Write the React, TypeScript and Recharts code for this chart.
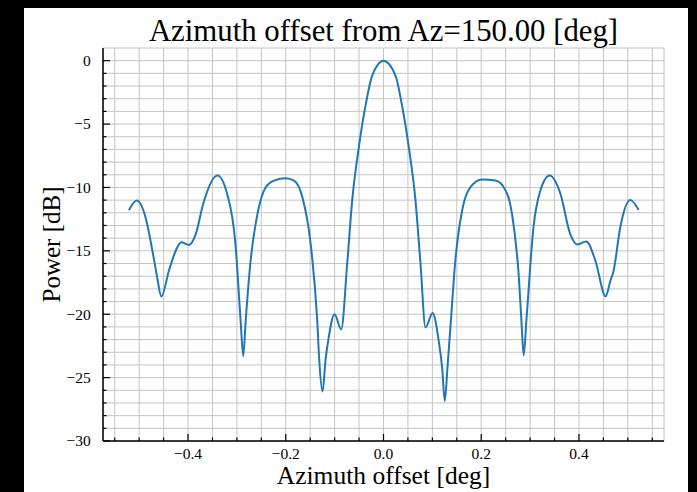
import React from "react";
import { LineChart, Line, XAxis, YAxis, CartesianGrid } from "recharts";

// Azimuth offset [deg]
const azimuthOffset = [
  -0.521, -0.505, -0.487, -0.473, -0.464, -0.4546, -0.439, -0.425, -0.4137, -0.398, -0.384,
  -0.369, -0.34, -0.32, -0.303, -0.2924, -0.287, -0.282, -0.272, -0.258, -0.241,
  -0.224, -0.2, -0.183, -0.166, -0.149, -0.1356, -0.1315, -0.1247, -0.1186, -0.112,
  -0.1002, -0.0865, -0.0743, -0.064, -0.0505, -0.0368, -0.0231, 0, 0.0245, 0.038,
  0.0518, 0.0654, 0.0757, 0.086, 0.1005, 0.113, 0.12, 0.1254, 0.1309, 0.137,
  0.147, 0.161, 0.178, 0.2018, 0.229, 0.246, 0.263, 0.277, 0.2822, 0.2869,
  0.2924, 0.307, 0.321, 0.34, 0.362, 0.382, 0.397, 0.415, 0.4335, 0.4546, 0.464,
  0.471, 0.4847, 0.505, 0.522,
];

// Power [dB]
const powerDb = [
  -11.8, -11.03, -12.35, -14.97, -16.9, -18.6, -16.55, -14.97, -14.32, -14.53, -13.66,
  -11.3, -9.06, -10.5, -14.45, -20.5, -23.3, -20.5, -15.8, -12.1, -9.98,
  -9.46, -9.27, -9.46, -10.77, -14.45, -20.5, -23.6, -26.1, -23.6, -21.8,
  -20.0, -21.2, -16.0, -11.0, -6.83, -3.55, -1.18, 0, -1.18, -3.55,
  -6.83, -11.0, -16.0, -21.05, -19.9, -22.1, -24.2, -26.85, -24.2, -21.0,
  -15.76, -11.8, -9.98, -9.38, -9.46, -9.98, -12.1, -17.1, -20.5, -23.25,
  -20.5, -13.1, -10.24, -9.06, -10.5, -13.66, -14.5, -14.26, -15.76, -18.6, -17.4,
  -16.55, -13.1, -10.98, -11.77,
];

const xTicks = [
  -0.55, -0.5, -0.45, -0.4, -0.35, -0.3, -0.25, -0.2, -0.15, -0.1, -0.05, 0,
  0.05, 0.1, 0.15, 0.2, 0.25, 0.3, 0.35, 0.4, 0.45, 0.5, 0.55,
];
const xMajorTicks = [-0.4, -0.2, 0, 0.2, 0.4];

const yTicks = [
  -30, -29, -28, -27, -26, -25, -24, -23, -22, -21, -20, -19, -18, -17, -16, -15,
  -14, -13, -12, -11, -10, -9, -8, -7, -6, -5, -4, -3, -2, -1, 0,
];
const yMajorTicks = [-30, -25, -20, -15, -10, -5, 0];

const xDomain: [number, number] = [-0.574, 0.574];
const yDomain: [number, number] = [-30, 1];

const titleText = "Azimuth offset from Az=150.00 [deg]";
const xLabelText = "Azimuth offset [deg]";
const yLabelText = "Power [dB]";

const data = azimuthOffset.map((x, i) => ({ x, p: powerDb[i] }));

const FONT = "'Liberation Serif', 'Times New Roman', serif";
const TICK_FS = 15.5;

const isIn = (v: number, arr: number[]) => arr.some((a) => Math.abs(a - v) < 1e-9);
const fmtX = (v: number) => {
  const s = Math.abs(v).toFixed(1);
  return v < -1e-9 ? "\u2212" + s : s;
};
const fmtY = (v: number) => (v < 0 ? "\u2212" + Math.abs(v) : String(v));

const XTick = (props: any) => {
  const { x, y, payload } = props;
  const major = isIn(payload.value, xMajorTicks);
  return (
    <g>
      <line x1={x} x2={x} y1={y} y2={y - (major ? 7 : 3.5)} stroke="#000" strokeWidth={1.2} />
      {major && (
        <text x={x} y={y + 18} textAnchor="middle" fontFamily={FONT} fontSize={TICK_FS} fill="#000">
          {fmtX(payload.value)}
        </text>
      )}
    </g>
  );
};

const YTick = (props: any) => {
  const { x, y, payload } = props;
  const major = isIn(payload.value, yMajorTicks);
  return (
    <g>
      <line x1={x} x2={x + (major ? 7 : 3.5)} y1={y} y2={y} stroke="#000" strokeWidth={1.2} />
      {major && (
        <text x={x - 12.3} y={y} dy="0.35em" textAnchor="end" fontFamily={FONT} fontSize={TICK_FS} fill="#000">
          {fmtY(payload.value)}
        </text>
      )}
    </g>
  );
};

export default function App() {
  return (
    <div style={{ position: "fixed", left: 0, top: 0, width: 697, height: 492, background: "#000" }}>
      <div style={{ position: "absolute", left: 24, top: 8, width: 664, height: 484, background: "#fff" }}>
        <LineChart
          width={664}
          height={484}
          data={data}
          margin={{ top: 40, right: 24, bottom: 0, left: 0 }}
        >
          <CartesianGrid stroke="#c4c4c4" strokeWidth={1} />
          <XAxis
            dataKey="x"
            type="number"
            domain={xDomain}
            ticks={xTicks}
            interval={0}
            height={51}
            tickSize={0}
            tickMargin={0}
            tickLine={false}
            tick={<XTick />}
            axisLine={{ stroke: "#000", strokeWidth: 1.5 }}
            allowDataOverflow
          />
          <XAxis
            xAxisId="top"
            orientation="top"
            type="number"
            domain={xDomain}
            height={0}
            tick={false}
            tickLine={false}
            axisLine={{ stroke: "#000", strokeWidth: 1.5 }}
            allowDataOverflow
          />
          <YAxis
            type="number"
            domain={yDomain}
            ticks={yTicks}
            interval={0}
            width={79}
            tickSize={0}
            tickMargin={0}
            tickLine={false}
            tick={<YTick />}
            axisLine={{ stroke: "#000", strokeWidth: 1.5 }}
            allowDataOverflow
          />
          <YAxis
            yAxisId="right"
            orientation="right"
            type="number"
            domain={yDomain}
            width={0}
            tick={false}
            tickLine={false}
            axisLine={{ stroke: "#000", strokeWidth: 1.5 }}
            allowDataOverflow
          />
          <Line
            type="monotone"
            dataKey="p"
            stroke="#1f77b4"
            strokeWidth={2}
            dot={false}
            activeDot={false}
            isAnimationActive={false}
          />
        </LineChart>
        <svg
          width={664}
          height={484}
          style={{ position: "absolute", left: 0, top: 0, pointerEvents: "none" }}
        >
          <text x={359.5} y={33} textAnchor="middle" fontFamily={FONT} fontSize={30.8} fill="#000">
            {titleText}
          </text>
          <text x={359.5} y={476} textAnchor="middle" fontFamily={FONT} fontSize={25.5} fill="#000">
            {xLabelText}
          </text>
          <text
            x={0}
            y={0}
            transform="translate(35.5,236.5) rotate(-90)"
            textAnchor="middle"
            fontFamily={FONT}
            fontSize={25}
            fill="#000"
          >
            {yLabelText}
          </text>
        </svg>
      </div>
    </div>
  );
}
